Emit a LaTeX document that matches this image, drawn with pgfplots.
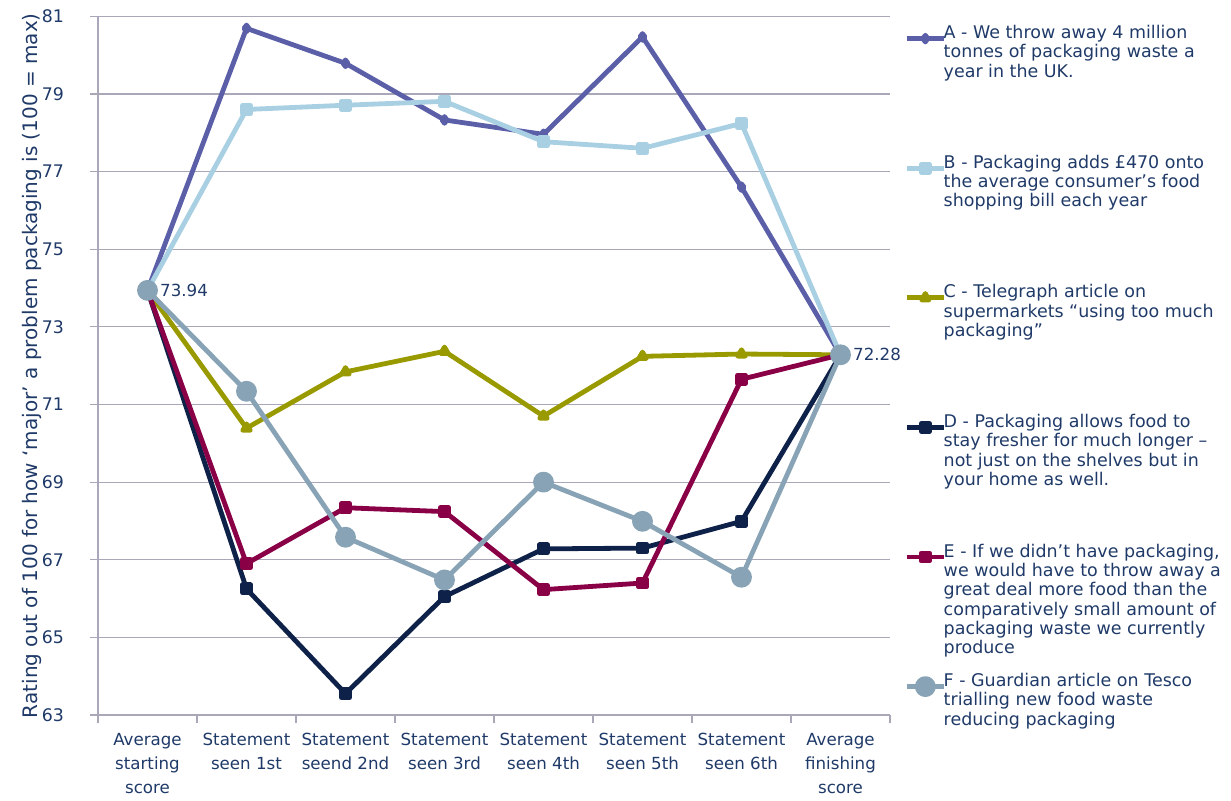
\documentclass[border=0pt]{standalone}
\usepackage{fontspec}
\setmainfont{DejaVu Sans}
\usepackage{pgfplots}
\pgfplotsset{compat=1.18}
\definecolor{cA}{HTML}{5B5FA8}
\definecolor{cB}{HTML}{A9D0E2}
\definecolor{cC}{HTML}{999900}
\definecolor{cD}{HTML}{0E2148}
\definecolor{cE}{HTML}{8A0047}
\definecolor{cF}{HTML}{88A3B5}
\definecolor{txt}{HTML}{1F3A68}
\definecolor{gridc}{HTML}{A8A8B8}
\newcommand{\legtxt}[1]{\hspace*{-3pt}\parbox[t]{230pt}{#1}}
\begin{document}
\begin{tikzpicture}
\begin{axis}[
  scale only axis,
  width=594pt, height=524pt,
  xmin=-0.5, xmax=7.5,
  ymin=63, ymax=81,
  ytick={63,65,...,81},
  xtick={0,...,7},
  xticklabels={{Average\\starting\\score},{Statement\\seen 1st},{Statement\\seend 2nd},{Statement\\seen 3rd},{Statement\\seen 4th},{Statement\\seen 5th},{Statement\\seen 6th},{Average\\finishing\\score}},
  minor xtick={-0.5,0.5,...,7.5},
  axis x line*=bottom, axis y line*=left,
  axis line style={gridc, line width=0.9pt, -},
  tick align=outside,
  major tick length=6pt, minor tick length=6pt,
  major x tick style={draw=none},
  minor x tick style={gridc, line width=0.9pt},
  major y tick style={gridc, line width=0.9pt},
  ymajorgrids,
  grid style={gridc, line width=0.9pt},
  tick label style={text=txt},
  yticklabel style={font=\fontsize{13}{15}\selectfont, xshift=-16pt},
  xticklabel style={font=\fontsize{12.5}{18}\selectfont, align=center, yshift=-4pt},
  /pgf/number format/assume math mode=true,
  ylabel={Rating out of 100 for how ‘major’ a problem packaging is (100 = max)},
  ylabel style={font=\fontsize{15}{17}\selectfont, text=txt, yshift=-7pt},
  legend style={at={(rel axis cs:1,1)}, anchor=north west, draw=none, fill=none,
    font=\fontsize{13.1}{14.5}\selectfont, text=txt, cells={anchor=base west},
    nodes={inner sep=1pt, text height=10pt, text depth=85.2pt},
    row sep=0pt, inner sep=0pt, xshift=10.5pt, yshift=-5.5pt},
  legend image code/.code={\draw[mark repeat=2,mark phase=2] plot coordinates {(0pt,0pt)(14pt,0pt)(28pt,0pt)};},
  every axis plot/.append style={line width=3.6pt, line join=round},
  clip=false,
]
\addplot[cA, mark=diamond*, mark size=2.5pt] coordinates {(0,73.94)(1,80.69)(2,79.79)(3,78.33)(4,77.96)(5,80.47)(6,76.60)(7,72.28)};
\addlegendentry{\legtxt{A - We throw away 4 million\\tonnes of packaging waste a\\year in the UK.}}
\addplot[cB, mark=square*, mark size=3pt] coordinates {(0,73.94)(1,78.60)(2,78.71)(3,78.81)(4,77.77)(5,77.60)(6,78.24)(7,72.28)};
\addlegendentry{\legtxt{B - Packaging adds £470 onto\\the average consumer’s food\\shopping bill each year}}
\addplot[cC, mark=triangle*, mark size=3.2pt] coordinates {(0,73.94)(1,70.39)(2,71.84)(3,72.37)(4,70.70)(5,72.24)(6,72.30)(7,72.28)};
\addlegendentry{\legtxt{C - Telegraph article on\\supermarkets “using too much\\packaging”}}
\addplot[cD, mark=square*, mark size=3pt] coordinates {(0,73.94)(1,66.25)(2,63.55)(3,66.05)(4,67.28)(5,67.30)(6,67.99)(7,72.28)};
\addlegendentry{\legtxt{D - Packaging allows food to\\stay fresher for much longer –\\not just on the shelves but in\\your home as well.}}
\addplot[cE, mark=square*, mark size=3pt] coordinates {(0,73.94)(1,66.90)(2,68.34)(3,68.24)(4,66.23)(5,66.40)(6,71.65)(7,72.28)};
\addlegendentry{\legtxt{E - If we didn’t have packaging,\\we would have to throw away a\\great deal more food than the\\comparatively small amount of\\packaging waste we currently\\produce}}
\addplot[cF, mark=*, mark size=6pt] coordinates {(0,73.94)(1,71.34)(2,67.58)(3,66.48)(4,69.00)(5,67.99)(6,66.55)(7,72.28)};
\addlegendentry{\legtxt{F - Guardian article on Tesco\\trialling new food waste\\reducing packaging}}
\node[anchor=west, text=txt, font=\fontsize{12.5}{14}\selectfont] at (axis cs:0,73.94) {\hspace{6pt}73.94};
\node[anchor=west, text=txt, font=\fontsize{12.5}{14}\selectfont] at (axis cs:7,72.28) {\hspace{6pt}72.28};
\end{axis}
\pgfresetboundingbox
\path[use as bounding box] (current axis.south west) ++(-73.5pt,-63.75pt) rectangle ++(923.25pt,600pt);
\end{tikzpicture}
\end{document}
